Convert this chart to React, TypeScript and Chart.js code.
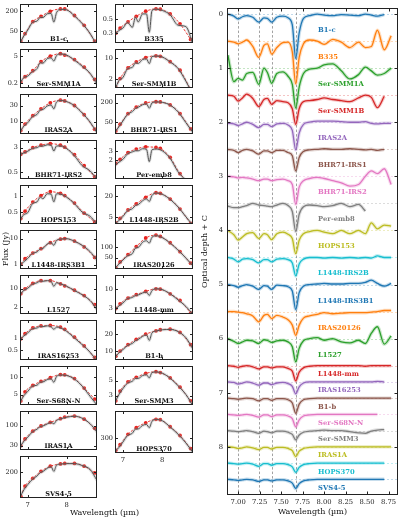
import React, { useEffect, useRef } from 'react';
import { Chart, registerables } from 'chart.js';
Chart.register(...registerables);

const FONT = "'DejaVu Serif', serif";

// ---------- Left: flux panels ----------
const contWave = [6.82, 6.93, 7.13, 7.34, 7.58, 7.84, 7.95, 8.2, 8.45, 8.72];
const specWave = [6.8, 6.9, 7.0, 7.12, 7.24, 7.32, 7.39, 7.5, 7.6, 7.67, 7.74, 7.85, 8.0, 8.2, 8.4, 8.6, 8.78];
const fluxTickX = [7, 8];

const contB1c = [26, 43, 97, 139, 196, 230, 230, 148, 76, 26];
const specB1c = [23, 37, 55, 92, 102, 130, 129, 166, 170, 95, 180, 224, 216, 144, 85, 44, 19];
const contSMM1A = [0.22, 0.42, 0.85, 2.5, 4.8, 6.5, 5.5, 3.2, 1.3, 0.3];
const specSMM1A = [0.2, 0.38, 0.45, 0.75, 1.1, 2.2, 2.1, 3.6, 3.9, 2.7, 5.2, 6.3, 5.5, 3.0, 1.45, 0.63, 0.17];
const contIRAS2A = [5.5, 8.5, 15, 24, 36, 43, 41, 30, 16, 6];
const specIRAS2A = [5, 7.4, 9.3, 14, 16.5, 22, 23, 29, 31, 24, 38, 42, 39, 29.5, 18, 9.8, 4.7];
const contIRS2 = [1.85, 2.2, 3.0, 3.6, 4.0, 3.6, 3.1, 1.8, 0.8, 0.36];
const specIRS2 = [1.8, 2.05, 2.3, 2.85, 3.0, 3.4, 3.35, 3.7, 3.6, 2.35, 3.4, 3.4, 2.8, 1.65, 0.8, 0.55, 0.3];
const contHOPS153 = [0.38, 0.52, 0.77, 1.02, 1.2, 1.12, 1.02, 0.74, 0.48, 0.33];
const specHOPS153 = [0.36, 0.45, 0.49, 0.72, 0.78, 0.95, 0.89, 1.1, 1.08, 0.78, 1.1, 1.08, 0.95, 0.72, 0.5, 0.42, 0.3];
const contIRS3B1 = [1.05, 1.7, 2.8, 4.1, 7.0, 9.5, 10, 8.0, 4.8, 1.9];
const specIRS3B1 = [0.95, 1.3, 1.75, 2.7, 3.1, 4.0, 4.2, 6.2, 7.0, 5.5, 8.6, 9.5, 9.9, 7.9, 5.5, 3.2, 1.5];
const contL1527 = [6.5, 10, 16, 20.5, 20.5, 15.5, 13, 8.8, 5.5, 2.5];
const specL1527 = [5.8, 8.8, 10.5, 15, 17, 19.8, 19.4, 20.5, 19, 12.5, 17, 15.3, 12.5, 8.6, 5.9, 3.6, 1.6];
const contI16253 = [1.0, 1.35, 1.9, 2.15, 2.2, 2.0, 1.75, 1.1, 0.65, 0.33];
const specI16253 = [0.95, 1.18, 1.42, 1.8, 1.9, 2.1, 2.05, 2.15, 2.05, 1.75, 2.0, 1.9, 1.55, 1.05, 0.7, 0.45, 0.26];
const contS68N = [3.9, 5.6, 7.2, 8.5, 9.8, 11.1, 11.0, 9.5, 6.5, 4.2];
const specS68N = [3.7, 4.8, 5.7, 7.0, 7.3, 8.2, 8.3, 9.1, 9.4, 8.2, 10.3, 10.9, 10.7, 9.3, 7.0, 4.7, 3.3];
const contIRAS1A = [30, 45, 72, 98, 122, 152, 168, 178, 148, 85];
const specIRAS1A = [28, 39, 50, 69, 81, 95, 98, 111, 121, 112, 137, 151, 166, 176, 156, 113, 68];
const contSVS45 = [95, 130, 165, 205, 240, 258, 262, 262, 240, 195];
const specSVS45 = [92, 116, 136, 160, 178, 197, 204, 225, 236, 205, 248, 256, 260, 260, 245, 218, 155];

const contB335 = [0.3, 0.36, 0.45, 0.55, 0.66, 0.72, 0.71, 0.6, 0.42, 0.24];
const specB335 = [0.29, 0.33, 0.36, 0.44, 0.37, 0.53, 0.45, 0.6, 0.6, 0.31, 0.68, 0.71, 0.68, 0.58, 0.4, 0.38, 0.2];
const contSMM1B = [1.05, 2.1, 4.8, 7.6, 10.7, 12.3, 11.8, 7.8, 4.0, 0.9];
const specSMM1B = [0.9, 1.8, 2.25, 4.5, 5.0, 7.1, 6.8, 9.2, 9.6, 6.7, 11.5, 12.0, 11.2, 7.6, 4.6, 1.7, 0.6];
const contIRS1 = [26, 42, 90, 145, 195, 213, 210, 170, 90, 30];
const specIRS1 = [24, 35, 53, 86, 105, 132, 143, 172, 183, 134, 196, 210, 204, 167, 103, 47, 23];
const contPer8 = [1.75, 2.1, 2.85, 3.35, 3.7, 3.6, 3.45, 2.3, 1.1, 0.7];
const specPer8 = [1.6, 1.85, 2.1, 2.7, 2.95, 3.1, 3.1, 3.4, 3.3, 1.9, 3.25, 3.35, 3.1, 2.2, 1.2, 0.8, 0.5];
const contIRS2B = [3.4, 4.6, 8.0, 12, 18.5, 25, 24, 16.5, 8.5, 3.3];
const specIRS2B = [3.2, 4.0, 5.2, 7.6, 8.7, 10.8, 11.4, 14.7, 16.6, 14.1, 21, 24.5, 22.6, 16.2, 9.8, 5.1, 2.9];
const contI20126 = [26, 38, 62, 105, 185, 224, 205, 135, 75, 35];
const specI20126 = [25, 33, 43, 57, 66, 95, 99, 140, 154, 132, 195, 215, 190, 132, 83, 49, 29];
const contL1448mm = [2.9, 3.9, 5.6, 6.9, 8.5, 10, 9.8, 7.3, 4.8, 2.2];
const specL1448mm = [2.7, 3.4, 4.1, 5.4, 5.8, 6.6, 6.8, 7.7, 8.1, 6.6, 9.0, 10, 9.5, 7.3, 5.0, 3.3, 2.0];
const contB1b = [8.1, 10, 13, 16.2, 20, 23, 24, 24.5, 21.5, 13];
const specB1b = [7.8, 9.3, 10.6, 12.6, 13.7, 15.3, 16.1, 18.3, 19.4, 15.5, 21.2, 22.8, 24, 24.3, 22.3, 17.3, 10.8];
const contSMM3 = [2.5, 3.5, 4.8, 5.6, 6.4, 6.8, 6.6, 5.5, 4.0, 2.5];
const specSMM3 = [2.4, 3.1, 3.8, 4.6, 4.9, 5.4, 5.4, 5.95, 6.1, 5.5, 6.6, 6.75, 6.45, 5.45, 4.2, 3.1, 2.1];
const contHOPS370 = [215, 250, 330, 395, 450, 495, 490, 405, 320, 225];
const specHOPS370 = [208, 232, 268, 320, 340, 380, 382, 420, 430, 395, 470, 492, 476, 402, 332, 262, 202];

type Panel = { name: string; cont: number[]; spec: number[]; yMin: number; yMax: number; ticks: number[] };

const leftPanels: Panel[] = [
  { name: 'B1-c', cont: contB1c, spec: specB1c, yMin: 22.7, yMax: 325, ticks: [50, 200] },
  { name: 'Ser-SMM1A', cont: contSMM1A, spec: specSMM1A, yMin: 0.107, yMax: 11.5, ticks: [0.2, 5] },
  { name: 'IRAS2A', cont: contIRAS2A, spec: specIRAS2A, yMin: 4.3, yMax: 66, ticks: [10, 30] },
  { name: 'BHR71-IRS2', cont: contIRS2, spec: specIRS2, yMin: 0.32, yMax: 5.3, ticks: [0.5, 3] },
  { name: 'HOPS153', cont: contHOPS153, spec: specHOPS153, yMin: 0.31, yMax: 1.61, ticks: [0.5, 1] },
  { name: 'L1448-IRS3B1', cont: contIRS3B1, spec: specIRS3B1, yMin: 0.68, yMax: 21.5, ticks: [1, 10] },
  { name: 'L1527', cont: contL1527, spec: specL1527, yMin: 1.08, yMax: 34, ticks: [2, 10] },
  { name: 'IRAS16253', cont: contI16253, spec: specI16253, yMin: 0.28, yMax: 3.07, ticks: [0.5, 1] },
  { name: 'Ser-S68N-N', cont: contS68N, spec: specS68N, yMin: 3.3, yMax: 15.7, ticks: [5, 10] },
  { name: 'IRAS1A', cont: contIRAS1A, spec: specIRAS1A, yMin: 23, yMax: 243, ticks: [30, 100] },
  { name: 'SVS4-5', cont: contSVS45, spec: specSVS45, yMin: 90, yMax: 330, ticks: [200] },
];
const rightPanels: Panel[] = [
  { name: 'B335', cont: contB335, spec: specB335, yMin: 0.21, yMax: 0.86, ticks: [0.3, 0.5] },
  { name: 'Ser-SMM1B', cont: contSMM1B, spec: specSMM1B, yMin: 1.0, yMax: 21, ticks: [2, 10] },
  { name: 'BHR71-IRS1', cont: contIRS1, spec: specIRS1, yMin: 20.6, yMax: 376, ticks: [50, 200] },
  { name: 'Per-emb8', cont: contPer8, spec: specPer8, yMin: 0.86, yMax: 5.07, ticks: [2, 3] },
  { name: 'L1448-IRS2B', cont: contIRS2B, spec: specIRS2B, yMin: 3.15, yMax: 42, ticks: [5, 20] },
  { name: 'IRAS20126', cont: contI20126, spec: specI20126, yMin: 23.7, yMax: 316, ticks: [50, 100] },
  { name: 'L1448-mm', cont: contL1448mm, spec: specL1448mm, yMin: 2.04, yMax: 24, ticks: [3, 10] },
  { name: 'B1-b', cont: contB1b, spec: specB1b, yMin: 6.9, yMax: 36, ticks: [10, 20] },
  { name: 'Ser-SMM3', cont: contSMM3, spec: specSMM3, yMin: 2.16, yMax: 8.3, ticks: [3, 5] },
  { name: 'HOPS370', cont: contHOPS370, spec: specHOPS370, yMin: 200, yMax: 620, ticks: [300] },
];

// ---------- Right: optical depth ----------
const tauWave = [6.88, 6.95, 7.0, 7.05, 7.1, 7.17, 7.24, 7.3, 7.34, 7.39, 7.45, 7.52, 7.58, 7.63, 7.67, 7.71, 7.76, 7.83, 7.92, 8.0, 8.1, 8.2, 8.3, 8.4, 8.48, 8.55, 8.62, 8.7, 8.78];
const tB1c = [0, .04, .09, .05, .03, .06, .15, .07, .08, .15, .06, .04, .07, .2, .82, .35, .08, .03, 0, .02, .03, .01, .02, .03, 0, .02, .04, .01, null];
const tB335 = [0, .02, .05, .02, -.02, .1, .3, .08, .05, .24, .12, .03, .02, .2, .79, .3, .05, -.02, 0, .06, -.03, .02, .12, .02, .12, .1, -.2, .16, -.1];
const tSMM1A = [-.24, .25, .19, .22, .1, .08, .3, 0, .08, .28, .1, .07, .15, .3, .74, .35, .1, .02, 0, -.06, -.08, .05, .2, .12, -.02, .05, .13, .1, 0];
const tSMM1B = [0, .02, .11, .05, -.02, .06, .21, .08, .06, .17, .1, .12, .14, .25, .54, .25, .12, .1, .08, .05, .08, .1, .12, .05, 0, .04, .23, .02, null];
const tIRAS2A = [.02, .03, .06, .03, 0, .04, .1, .04, .04, .08, .03, .02, .05, .15, .51, .2, .04, 0, -.02, -.02, -.02, -.01, 0, 0, -.01, .02, .03, .02, .02];
const tIRS1 = [0, .02, .06, .02, 0, .03, .09, .03, .03, .06, .02, .02, .06, .12, .4, .15, .04, .01, 0, -.01, 0, 0, -.01, 0, .01, 0, .02, 0, null];
const tIRS2 = [0, .01, .03, .02, .03, .05, .08, .05, .05, .08, .06, .05, .08, .15, .52, .2, .08, .04, .02, .04, .08, .12, .18, .15, 0, -.1, -.05, -.14, .15];
const tPer8 = [.05, .08, .08, .06, .04, 0, .03, .04, .05, .06, .03, 0, .04, .15, .52, .2, .06, .03, .04, .06, .04, 0, .06, .02, .14, null, null, null, null];
const tHOPS153 = [0, .08, .18, .12, .06, .04, .15, .06, .08, .17, .06, .03, .07, .15, .43, .18, .06, .02, 0, .03, .06, 0, .06, 0, .06, -.14, -.03, -.1, -.08];
const tIRS2B = [0, .03, .08, .03, .02, .04, .1, .04, .04, .08, .03, .02, .04, .1, .34, .12, .03, 0, 0, .01, 0, .01, 0, .01, 0, .01, -.03, 0, 0];
const tIRS3B1 = [0, .02, .05, .02, 0, .03, .09, .02, .03, .09, .01, .02, .04, .12, .46, .15, .03, 0, -.01, -.02, -.01, -.01, -.02, -.02, -.04, -.08, -.02, .03, -.02];
const tI20126 = [0, 0, .01, .02, .04, .08, .19, .07, .05, .13, .07, .1, .15, .25, .44, .25, .12, .08, .05, .02, .04, .03, .02, .02, .02, .01, 0, -.02, -.02];
const tL1527 = [0, .05, .09, .06, .03, .04, .09, .02, .03, .07, .04, .03, .06, .15, .43, .18, .04, 0, -.02, .03, 0, .06, .08, .03, .09, -.1, -.22, .1, -.05];
const tL1448mm = [0, .01, .03, .01, 0, .02, .06, .02, .02, .04, .02, .02, .05, .1, .28, .12, .04, .01, 0, 0, 0, 0, 0, 0, .01, 0, 0, 0, 0];
const tI16253 = [0, .01, .04, .02, 0, .02, .06, .02, .02, .05, .02, .01, .03, .08, .22, .09, .02, 0, 0, 0, 0, 0, 0, 0, 0, 0, -.01, 0, null];
const tB1b = [0, .01, .02, .01, 0, .01, .05, .01, .01, .04, .01, .01, .03, .09, .28, .11, .03, .01, 0, 0, 0, 0, 0, 0, 0, 0, 0, 0, 0];
const tS68N = [0, .01, .02, .01, 0, .02, .05, .01, .01, .04, .01, .01, .03, .08, .23, .1, .03, .01, 0, 0, 0, 0, 0, 0, 0, 0, 0, null, null];
const tSMM3 = [0, .01, .02, .01, 0, .02, .05, .01, .02, .04, .01, .01, .03, .07, .17, .08, .03, .01, 0, -.01, 0, 0, .02, .04, .05, .01, -.01, -.02, null];
const tIRAS1A = [0, .01, .03, .02, 0, .02, .05, .01, .01, .04, .01, .01, .03, .07, .18, .08, .03, .01, 0, 0, 0, 0, 0, 0, 0, 0, 0, 0, 0];
const tHOPS370 = [0, .01, .02, .01, 0, .02, .06, .01, .01, .04, .01, .01, .03, .07, .17, .08, .03, .01, 0, 0, 0, 0, 0, 0, 0, 0, 0, 0, null];
const tSVS45 = [0, .01, .02, .01, 0, .01, .04, .01, .01, .03, .01, .01, .03, .07, .17, .08, .03, .01, 0, 0, 0, 0, 0, 0, 0, 0, 0, 0, null];

const sources = ['B1-c', 'B335', 'Ser-SMM1A', 'Ser-SMM1B', 'IRAS2A', 'BHR71-IRS1', 'BHR71-IRS2', 'Per-emb8', 'HOPS153', 'L1448-IRS2B', 'L1448-IRS3B1', 'IRAS20126', 'L1527', 'L1448-mm', 'IRAS16253', 'B1-b', 'Ser-S68N-N', 'Ser-SMM3', 'IRAS1A', 'HOPS370', 'SVS4-5'];
const tauSeries = [tB1c, tB335, tSMM1A, tSMM1B, tIRAS2A, tIRS1, tIRS2, tPer8, tHOPS153, tIRS2B, tIRS3B1, tI20126, tL1527, tL1448mm, tI16253, tB1b, tS68N, tSMM3, tIRAS1A, tHOPS370, tSVS45];
const offsets = [0, 0.5, 1.0, 1.5, 2.0, 2.5, 3.0, 3.5, 4.0, 4.5, 5.0, 5.5, 6.0, 6.5, 6.8, 7.1, 7.4, 7.7, 8.0, 8.3, 8.6];
const featureLines = [7.0, 7.24, 7.39, 7.67];
const tauTickX = [7.0, 7.25, 7.5, 7.75, 8.0, 8.25, 8.5, 8.75];
const tauTickY = [0, 1, 2, 3, 4, 5, 6, 7, 8];
const labelWave = 7.93;

const TAB10 = ['#1f77b4', '#ff7f0e', '#2ca02c', '#d62728', '#9467bd', '#8c564b', '#e377c2', '#7f7f7f', '#bcbd22', '#17becf'];

// ---------- plugins ----------
function framePlugin(len: number) {
  return {
    id: 'frame',
    afterDraw(chart: any) {
      const { ctx, chartArea: a } = chart;
      const l = Math.round(a.left) + 0.5, t = Math.round(a.top) + 0.5;
      const r = Math.round(a.right) - 0.5, b = Math.round(a.bottom) - 0.5;
      ctx.save();
      ctx.strokeStyle = '#222';
      ctx.lineWidth = 1;
      ctx.strokeRect(l, t, r - l, b - t);
      ctx.beginPath();
      const xs = chart.scales.x, ys = chart.scales.y;
      for (const tk of xs.ticks) {
        const px = Math.round(xs.getPixelForValue(tk.value)) + 0.5;
        ctx.moveTo(px, b); ctx.lineTo(px, b - len);
        ctx.moveTo(px, t); ctx.lineTo(px, t + len);
      }
      for (const tk of ys.ticks) {
        const py = Math.round(ys.getPixelForValue(tk.value)) + 0.5;
        ctx.moveTo(l, py); ctx.lineTo(l + len, py);
        ctx.moveTo(r, py); ctx.lineTo(r - len, py);
      }
      ctx.stroke();
      ctx.restore();
    },
  };
}

function nameLabelPlugin(name: string) {
  return {
    id: 'nameLabel',
    afterDatasetsDraw(chart: any) {
      const { ctx, chartArea: a } = chart;
      ctx.save();
      ctx.font = `bold 6.6px ${FONT}`;
      ctx.fillStyle = '#111';
      ctx.textAlign = 'center';
      ctx.textBaseline = 'alphabetic';
      ctx.fillText(name, (a.left + a.right) / 2, a.bottom - 2.5);
      ctx.restore();
    },
  };
}

const tauDecorPlugin = {
  id: 'tauDecor',
  beforeDatasetsDraw(chart: any) {
    const { ctx, chartArea: a } = chart;
    const xs = chart.scales.x, ys = chart.scales.y;
    ctx.save();
    ctx.beginPath();
    ctx.rect(a.left, a.top, a.right - a.left, a.bottom - a.top);
    ctx.clip();
    ctx.lineWidth = 0.8;
    offsets.forEach((c, i) => {
      const py = Math.round(ys.getPixelForValue(c)) + 0.5;
      ctx.strokeStyle = TAB10[i % 10];
      ctx.globalAlpha = 0.35;
      ctx.setLineDash([2, 2]);
      ctx.beginPath();
      ctx.moveTo(a.left, py); ctx.lineTo(a.right, py);
      ctx.stroke();
    });
    ctx.globalAlpha = 1;
    ctx.strokeStyle = '#8a8a8a';
    ctx.setLineDash([2.5, 2]);
    featureLines.forEach((w) => {
      const px = Math.round(xs.getPixelForValue(w)) + 0.5;
      ctx.beginPath();
      ctx.moveTo(px, a.top); ctx.lineTo(px, a.bottom);
      ctx.stroke();
    });
    ctx.restore();
  },
  afterDatasetsDraw(chart: any) {
    const { ctx } = chart;
    const xs = chart.scales.x, ys = chart.scales.y;
    ctx.save();
    ctx.font = `bold 6.8px ${FONT}`;
    ctx.textAlign = 'left';
    ctx.textBaseline = 'middle';
    sources.forEach((s, i) => {
      ctx.fillStyle = TAB10[i % 10];
      const dy = i < 13 ? 0.3 : 0.16;
      ctx.fillText(s, xs.getPixelForValue(labelWave), ys.getPixelForValue(offsets[i] + dy));
    });
    ctx.restore();
  },
};

// ---------- configs ----------
function panelConfig(p: Panel, isBottom: boolean, axisW: number, padR: number): any {
  return {
    type: 'line',
    data: {
      datasets: [
        {
          data: specWave.map((x, i) => ({ x, y: p.spec[i] })),
          borderColor: 'rgba(160,160,160,0.35)',
          borderWidth: 3,
          pointRadius: 0,
          cubicInterpolationMode: 'monotone',
        },
        {
          data: specWave.map((x, i) => ({ x, y: p.spec[i] })),
          borderColor: '#2a2a2a',
          borderWidth: 1,
          pointRadius: 0,
          cubicInterpolationMode: 'monotone',
        },
        {
          data: contWave.map((x, i) => ({ x, y: p.cont[i] })),
          borderColor: '#e8201c',
          borderWidth: 0.9,
          borderDash: [2.5, 1.5],
          pointRadius: 1.9,
          pointBorderWidth: 0,
          pointBackgroundColor: '#e8201c',
          cubicInterpolationMode: 'monotone',
        },
      ],
    },
    options: {
      responsive: false,
      animation: false,
      devicePixelRatio: 1,
      events: [],
      layout: { padding: { top: 3, bottom: 3, left: 0, right: padR } },
      plugins: { legend: { display: false }, tooltip: { enabled: false } },
      scales: {
        x: {
          type: 'linear',
          min: 6.8,
          max: 8.78,
          grid: { display: false, drawTicks: false },
          border: { display: false },
          afterBuildTicks: (s: any) => { s.ticks = fluxTickX.map((v) => ({ value: v })); },
          afterFit: (s: any) => { s.height = isBottom ? 11 : 0; },
          ticks: {
            display: isBottom,
            font: { family: FONT, size: 6.8 },
            color: '#222',
            padding: 3,
            maxRotation: 0,
            autoSkip: false,
            callback: (v: any) => String(v),
          },
        },
        y: {
          type: 'logarithmic',
          min: p.yMin,
          max: p.yMax,
          grid: { display: false, drawTicks: false },
          border: { display: false },
          afterBuildTicks: (s: any) => { s.ticks = p.ticks.map((v) => ({ value: v })); },
          afterFit: (s: any) => { s.width = axisW; },
          ticks: {
            font: { family: FONT, size: 6.5 },
            color: '#222',
            padding: 2,
            autoSkip: false,
            callback: (v: any) => String(v),
          },
        },
      },
    },
    plugins: [framePlugin(2.5), nameLabelPlugin(p.name)],
  };
}

function tauConfig(): any {
  const datasets: any[] = [];
  tauSeries.forEach((ser, i) => {
    const data = tauWave.map((x, k) => ({ x, y: ser[k] === null ? null : (ser[k] as number) + offsets[i] }));
    datasets.push({
      data,
      borderColor: TAB10[i % 10] + '40',
      borderWidth: 3.5,
      pointRadius: 0,
      cubicInterpolationMode: 'monotone',
      spanGaps: false,
    });
    datasets.push({
      data,
      borderColor: TAB10[i % 10],
      borderWidth: 1.3,
      pointRadius: 0,
      cubicInterpolationMode: 'monotone',
      spanGaps: false,
    });
  });
  return {
    type: 'line',
    data: { datasets },
    options: {
      responsive: false,
      animation: false,
      devicePixelRatio: 1,
      events: [],
      layout: { padding: { top: 1, bottom: 1, left: 0, right: 2 } },
      plugins: { legend: { display: false }, tooltip: { enabled: false } },
      scales: {
        x: {
          type: 'linear',
          min: 6.87,
          max: 8.86,
          grid: { display: false, drawTicks: false },
          border: { display: false },
          afterBuildTicks: (s: any) => { s.ticks = tauTickX.map((v) => ({ value: v })); },
          afterFit: (s: any) => { s.height = 22; },
          ticks: {
            font: { family: FONT, size: 6.8 },
            color: '#222',
            padding: 3,
            maxRotation: 0,
            autoSkip: false,
            callback: (v: any) => Number(v).toFixed(2),
          },
          title: { display: true, text: 'Wavelength (µm)', font: { family: FONT, size: 8 }, color: '#111', padding: 0 },
        },
        y: {
          type: 'linear',
          min: -0.11,
          max: 8.89,
          reverse: true,
          grid: { display: false, drawTicks: false },
          border: { display: false },
          afterBuildTicks: (s: any) => { s.ticks = tauTickY.map((v) => ({ value: v })); },
          afterFit: (s: any) => { s.width = 27; },
          ticks: {
            font: { family: FONT, size: 6.8 },
            color: '#222',
            padding: 4,
            autoSkip: false,
            callback: (v: any) => String(v),
          },
          title: { display: true, text: 'Optical depth + C', font: { family: FONT, size: 8 }, color: '#111', padding: 0 },
        },
      },
    },
    plugins: [tauDecorPlugin, framePlugin(3)],
  };
}

function ChartCanvas(props: { left: number; top: number; width: number; height: number; make: () => any }) {
  const ref = useRef<HTMLCanvasElement>(null);
  useEffect(() => {
    const chart = new Chart(ref.current as HTMLCanvasElement, props.make());
    return () => chart.destroy();
  }, []);
  return (
    <canvas
      ref={ref}
      width={props.width}
      height={props.height}
      style={{ position: 'absolute', left: props.left, top: props.top, width: props.width, height: props.height }}
    />
  );
}

const rowTop = (i: number) => Math.round(1 + 45.2 * i);

export default function App() {
  const cells: any[] = [];
  leftPanels.forEach((p, i) => {
    const top = rowTop(i), h = rowTop(i + 1) - top;
    const isBottom = i === leftPanels.length - 1;
    cells.push(
      <ChartCanvas key={'L' + i} left={0} top={top - 3} width={101} height={h + 6 + (isBottom ? 11 : 0)}
        make={() => panelConfig(p, isBottom, 20, 2)} />
    );
  });
  rightPanels.forEach((p, i) => {
    const top = rowTop(i), h = rowTop(i + 1) - top;
    const isBottom = i === rightPanels.length - 1;
    cells.push(
      <ChartCanvas key={'R' + i} left={100} top={top - 3} width={97} height={h + 6 + (isBottom ? 11 : 0)}
        make={() => panelConfig(p, isBottom, 15, 2)} />
    );
  });
  return (
    <div style={{ position: 'absolute', left: 0, top: 0, width: 400, height: 518, background: '#fff', fontFamily: FONT }}>
      {cells}
      <ChartCanvas left={200} top={0} width={200} height={518} make={tauConfig} />
      <div style={{ position: 'absolute', left: 4.5, top: 249, transform: 'translate(-50%, -50%) rotate(-90deg)', fontSize: 8, whiteSpace: 'nowrap', color: '#111' }}>
        Flux (Jy)
      </div>
      <div style={{ position: 'absolute', left: 104.5, top: 512, transform: 'translate(-50%, -50%)', fontSize: 8, whiteSpace: 'nowrap', color: '#111' }}>
        Wavelength (µm)
      </div>
    </div>
  );
}
